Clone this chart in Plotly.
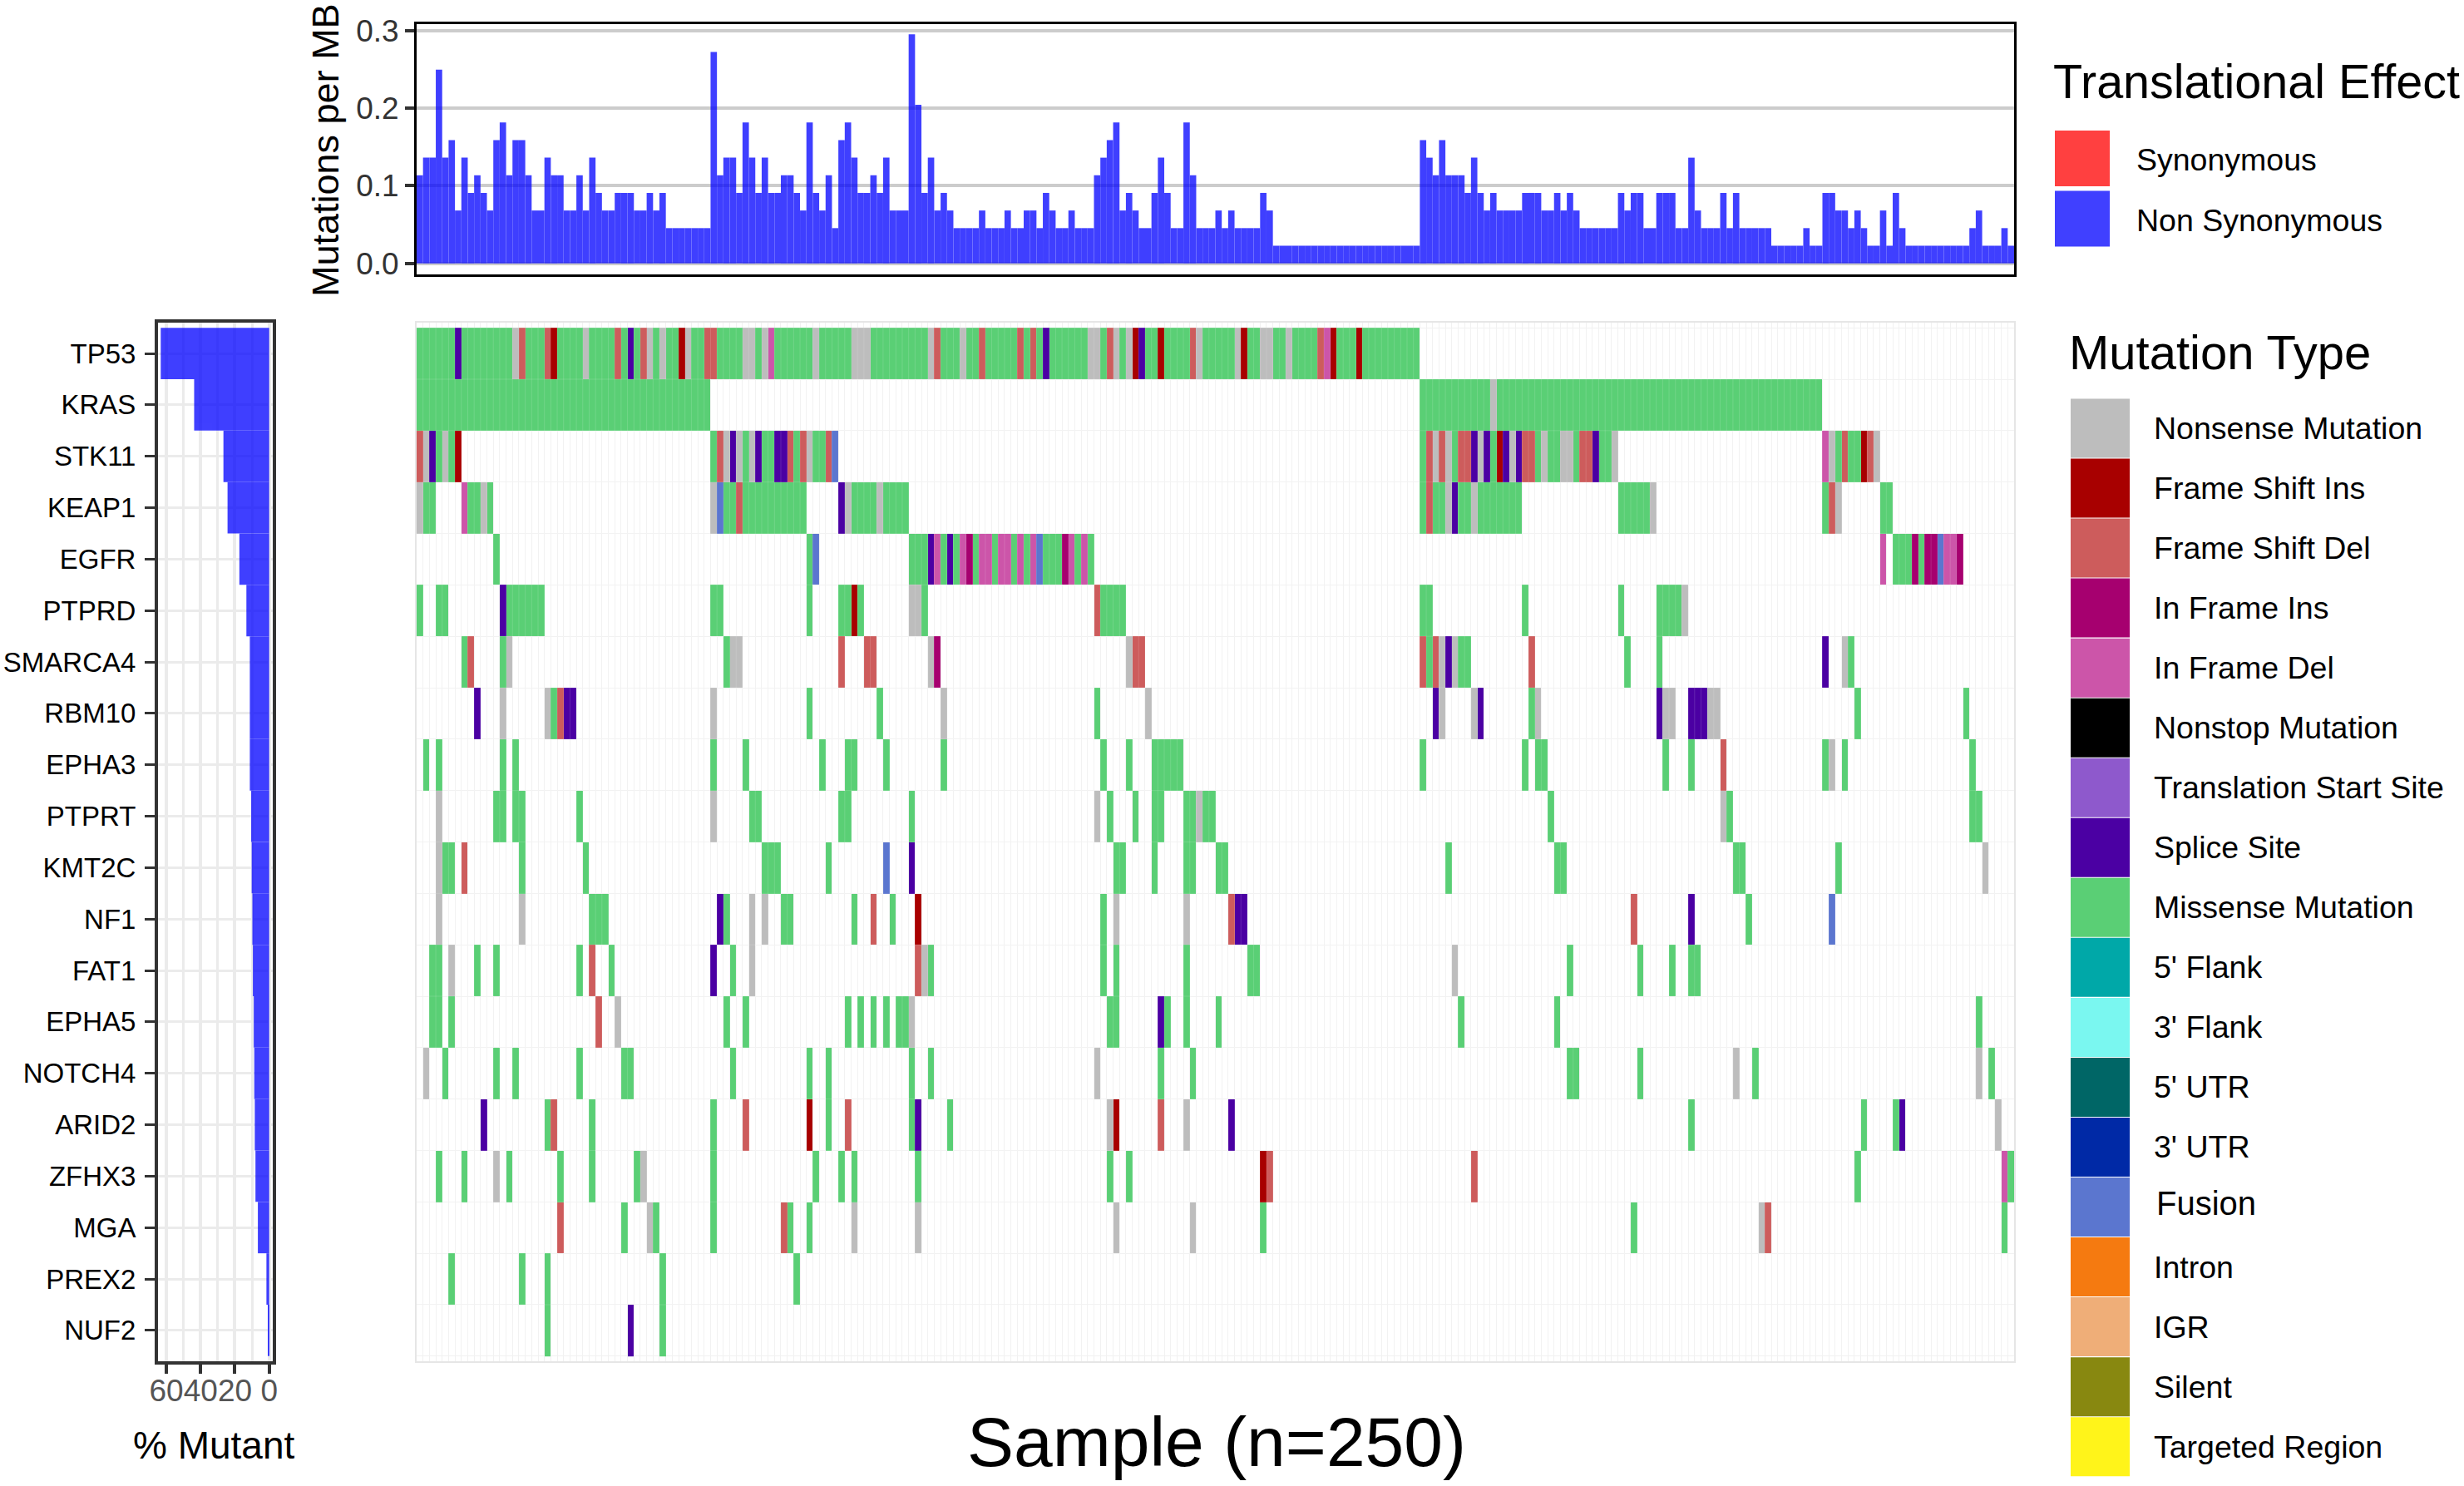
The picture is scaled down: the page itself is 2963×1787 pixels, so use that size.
import plotly.graph_objects as go

W, H = 2963, 1787

genes = ["TP53", "KRAS", "STK11", "KEAP1", "EGFR", "PTPRD", "SMARCA4", "RBM10", "EPHA3", "PTPRT",
         "KMT2C", "NF1", "FAT1", "EPHA5", "NOTCH4", "ARID2", "ZFHX3", "MGA", "PREX2", "NUF2"]
pct_mutant = [63.3, 43.8, 26.7, 24.3, 17.4, 13.3, 11.3, 11.3, 11.3, 10.5,
              10.2, 9.8, 9.5, 9.0, 8.7, 8.4, 8.0, 6.6, 1.6, 0.7]

# mutation counts per sample (top panel), one per sample, divided by a 44 MB target below
mut_counts = [5, 6, 6, 11, 6, 7, 3, 6, 4, 5, 4, 3, 7, 8, 5, 7, 7, 5, 3, 3,
              6, 5, 5, 3, 3, 5, 3, 6, 4, 3, 3, 4, 4, 4, 3, 3, 4, 3, 4,
              2, 2, 2, 2, 2, 2, 2, 12, 5, 6, 6, 4, 8, 6, 4, 6, 4, 4, 5, 5, 4,
              3, 8, 4, 3, 5, 2, 7, 8, 6, 4, 4, 5, 4, 6, 3, 3, 3, 13, 9, 4,
              6, 3, 4, 3, 2, 2, 2, 2, 3, 2, 2, 2, 3, 2, 2, 3, 3, 2, 4, 3,
              2, 2, 3, 2, 2, 2, 5, 6, 7, 8, 3, 4, 3, 2, 2, 4, 6, 4, 2, 2,
              8, 5, 2, 2, 2, 3, 2, 3, 2, 2, 2, 2, 4, 3,
              1, 1, 1, 1, 1, 1, 1, 1, 1, 1, 1, 1, 1, 1, 1, 1, 1, 1, 1, 1, 1, 1, 1,
              7, 6, 5, 7, 5, 5, 5, 4, 6, 4, 3, 4, 3, 3, 3, 3, 4, 4, 4, 3, 3, 4, 3, 4, 3,
              2, 2, 2, 2, 2, 2, 4, 3, 4, 4, 2, 2, 4, 4, 4, 2, 2, 6, 3, 2, 2, 2, 4, 2, 4,
              2, 2, 2, 2, 2, 1, 1, 1, 1, 1, 2, 1, 1, 4, 4, 3, 3, 2, 3, 2, 1, 1, 3, 1, 4, 2,
              1, 1, 1, 1, 1, 1, 1, 1, 1, 1, 2, 3, 1, 1, 1, 2, 1]
y_ticks = [0.0, 0.1, 0.2, 0.3]
pct_ticks = [60, 40, 20, 0]

mutation_types = ["Nonsense Mutation", "Frame Shift Ins", "Frame Shift Del", "In Frame Ins", "In Frame Del",
                  "Nonstop Mutation", "Translation Start Site", "Splice Site", "Missense Mutation",
                  "5' Flank", "3' Flank", "5' UTR", "3' UTR", "Fusion", "Intron", "IGR", "Silent", "Targeted Region"]
type_colors = ["#BDBDBD", "#A80000", "#CD5C5C", "#A6006F", "#CC55A9", "#000000", "#8E59CC", "#4B00A3", "#5ACF75",
               "#00A8A8", "#7AF7F0", "#006666", "#0029A6", "#5B76CF", "#F57A10", "#EFAE78", "#888810", "#FFF41A"]
# letter used in the call strings -> index in mutation_types
type_codes = {"N": 0, "F": 1, "D": 2, "I": 3, "E": 4, "S": 7, "M": 8, "U": 13}

effects = ["Synonymous", "Non Synonymous"]
effect_colors = ["#FF4040", "#4040FF"]

# one string per gene: letter + sample index or index range
TP53 = ("M0-5 S6 M7-14 N15 D16 M17-19 D20 F21 M22-25 N26 M27-30 D31 M32 S33 M34 D35 N36 M37 N38 M39-40 F41 N42 "
        "M43-44 D45-46 M47-50 N51-52 M53 N54 E55 M56-61 N62 M63-67 N68-70 M71-79 N80 D81 M82-84 N85 M86-87 D88 "
        "M89-93 D94 M95 D96 M97 S98 M99-104 N105-106 M107 D108 N109 M110 N111 F112 S113 M114-115 F116 M117-120 "
        "D121 N122 M123-127 N128 F129 M130-131 N132-133 M134-135 N136 M137-140 D141 E142 F143 M144-146 F147 M148-156")
KRAS = "M0-45 M157-167 N168 M169-219"
STK11 = ("D0 N1 S2 M3 N4 M5 F6 M46 D47 N48 S49 N50 M51 N52 S53 M54-55 S56-57 D58 M59 D60 N61 M62-63 D64 U65 "
         "M157 D158 N159 D160 N161 M162 D163-164 S165 N166 S167 M168 F169 S170 N171 S172 D173-174 M175 N176 M177-178 "
         "N179-180 M181 D182-183 S184 M185-186 N187 E220 N221 M222 D223 M224-225 F226 D227 N228")
KEAP1 = ("N0 M1-2 E7 M8-9 N10 M11 N46 U47 M48-49 D50 M51-60 S66 N67 M68-71 N72 M73-76 "
         "M157 D158 M159-160 N161 S162 M163-164 N165 M166-172 M188-192 N193 M220 D221 N222 M229-230")
EGFR = ("M12 M61 U62 M77-79 S80 E81 M82 S83 M84 E85 I86 M87 E88-89 M90 E91-92 M93 E94 M95 E96 U97 M98-100 I101 E102 "
        "M103 E104 M105 E229 M231-233 I234 M235 I236-237 U238 E239-240 I241")
PTPRD = "M0 M3-4 S13 M14-19 M46-47 M61 M66-67 F68 M69 N77-78 M79 D106 M107-110 M157-158 M173 M188 M194-197 N198"
SMARCA4 = ("M7 D8 M13 N14 M48 N49-50 D66 D70-71 N80 I81 N111 D112-113 D157 M158 D159 N160 S161 N162 M163-164 D174 "
           "M189 M194 S220 N223 M224")
RBM10 = "S9 N13 N20 M21 D22 S23-24 N46 M61 M72 N82 M106 N114 S159 N160 N165 S166 M174 N175 S194 N195-196 S199-201 N202-203 M225 M242"
EPHA3 = "M1 M3 M13 M15 M46 M51 M63 M67-68 M73 M82 M107 M111 M115-119 M157 M173 M175-176 M195 M199 D204 M220 N221 M223 M243"
PTPRT = "N3 M12-13 M15-16 M25 N46 M52-53 M66-67 M77 N106 M108 M112 M115-116 M120-121 N122 M123-124 M177 N204 M205 M243-244"
KMT2C = "N3 M4-5 D7 M16 M26 M54-56 M64 U73 S77 M109-110 M115 M120-121 M125-126 M161 M178-179 M206-207 M222 N245"
NF1 = "N3 N16 M27-29 S47 M48 N52 N54 M57-58 M68 D71 M74 F78 M107 N109 N120 D127 S128-129 D190 S199 M208 U221"
FAT1 = "M2-3 N5 M9 M12 M25 D27 M30 S46 M49 N52 D78 N79 M80 M107 M109 M120 M130-131 N162 M180 M191 M196 M199-200"
EPHA5 = "M2-3 M5 D28 N31 M48 M51 M67 M69 M71 M73 M75-76 N77 M108-109 S116 M117 M120 M125 M163 M178 M244"
NOTCH4 = "N1 M4 M12 M15 M25 M32-33 M49 M61 M64 M77 M80 N106 M116 M121 M180-181 M191 N206 M209 N244 M246"
ARID2 = "S10 M20 D21 M27 M46 D51 F61 M64 D67 M77 S78 M83 N108 F109 D116 N120 S127 M199 M226 M231 S232 N247"
ZFHX3 = "M3 M7 N12 M14 M22 M27 M34 N35 M46 M62 M66 M68 M78 M108 M111 F132 D133 D165 M225 E248 M249"
MGA = "D22 M32 N36 M37 M46 D57 M58 M61 N68 N78 N109 N121 M132 M190 N210 D211 M248"
PREX2 = "M5 M16 M20 M38 M59"
NUF2 = "M20 S33 M38"

gene_calls = [TP53, KRAS, STK11, KEAP1, EGFR, PTPRD, SMARCA4, RBM10, EPHA3, PTPRT,
              KMT2C, NF1, FAT1, EPHA5, NOTCH4, ARID2, ZFHX3, MGA, PREX2, NUF2]

n_samples = 250

# turn the call strings into the tile matrix
z = [[None] * n_samples for g in genes]
for row, calls in enumerate(gene_calls):
    for tok in calls.split():
        rng = tok[1:].split("-")
        for s in range(int(rng[0]), int(rng[-1]) + 1):
            z[row][s] = type_codes[tok[0]] + 1

n_types = len(mutation_types)
colorscale = []
for i, c in enumerate(type_colors):
    colorscale.append([i / n_types, c])
    colorscale.append([(i + 1) / n_types, c])


def px_x(p):
    return p / W


def px_y(p):
    return 1 - p / H


samples = list(range(n_samples))
FONT = "Liberation Sans"

fig = go.Figure()

fig.add_trace(go.Heatmap(z=z, x=samples, y=list(range(len(genes))), zmin=0.5, zmax=n_types + 0.5,
                         colorscale=colorscale, showscale=False, hoverongaps=False,
                         xaxis="x", yaxis="y"))

# faint tile outlines on top of the coloured tiles
sep_x, sep_y = [], []
for s in range(n_samples - 1):
    sep_x += [s + 0.5, s + 0.5, None]
    sep_y += [-0.5, 19.5, None]
for g in range(len(genes) - 1):
    sep_x += [-0.5, 249.5, None]
    sep_y += [g + 0.5, g + 0.5, None]
fig.add_trace(go.Scatter(x=sep_x, y=sep_y, mode="lines", line=dict(color="rgba(255,255,255,0.14)", width=1),
                         hoverinfo="skip", xaxis="x", yaxis="y"))

fig.add_trace(go.Bar(x=samples, y=[c / 44 for c in mut_counts], width=1, marker=dict(color="#0000FF", line_width=0),
                     opacity=0.75, xaxis="x2", yaxis="y2"))

fig.add_trace(go.Bar(x=pct_mutant, y=genes, orientation="h", width=1, marker=dict(color="#0000FF", line_width=0),
                     opacity=0.75, xaxis="x3", yaxis="y3"))

grid_light = "#F1F1F1"

fig.update_layout(
    width=W, height=H, margin=dict(l=0, r=0, t=0, b=0, pad=0), showlegend=False,
    paper_bgcolor="white", plot_bgcolor="white", font=dict(family=FONT, color="black"),
    xaxis=dict(domain=[px_x(501), px_x(2422)], range=[-0.5, 249.5], showticklabels=False, ticks="", automargin=False,
               showgrid=True, gridcolor=grid_light, gridwidth=1, tick0=0.5, dtick=1, zeroline=False,
               showline=True, mirror=True, linecolor="#E6E6E6", linewidth=2),
    yaxis=dict(domain=[px_y(1637), px_y(388)], range=[19.6, -0.6], showticklabels=False, ticks="", automargin=False,
               showgrid=True, gridcolor=grid_light, gridwidth=1, tick0=0.5, dtick=1, zeroline=False,
               showline=True, mirror=True, linecolor="#E6E6E6", linewidth=2),
    xaxis2=dict(domain=[px_x(501), px_x(2422)], range=[-0.5, 249.5], showticklabels=False, ticks="", showgrid=False, automargin=False,
                zeroline=False, showline=True, mirror=True, linecolor="black", linewidth=3, anchor="y2"),
    yaxis2=dict(domain=[px_y(330), px_y(29)], range=[-0.0143, 0.3087], tickvals=y_ticks, ticktext=["0.0", "0.1", "0.2", "0.3"],
                ticks="outside", ticklen=11, tickwidth=4, tickcolor="#333333", tickfont=dict(size=37, color="#333333"), automargin=False,
                showgrid=True, gridcolor="#CCCCCC", gridwidth=4, zeroline=False, showline=True, mirror=True,
                linecolor="black", linewidth=3, anchor="x2"),
    xaxis3=dict(domain=[px_x(190), px_x(328)], range=[64.9, -2.1], tickvals=pct_ticks, tickangle=0, automargin=False,
                ticks="outside", ticklen=11, tickwidth=4, tickcolor="#333333", tickfont=dict(size=37, color="#555555"),
                ticklabelstandoff=-11,
                showgrid=True, gridcolor="#EBEBEB", gridwidth=4, minor=dict(dtick=10, showgrid=True, gridcolor="#EBEBEB", gridwidth=3),
                zeroline=False, showline=True, mirror=True, linecolor="#333333", linewidth=4, anchor="y3"),
    yaxis3=dict(domain=[px_y(1637), px_y(388)], type="category", categoryorder="array", categoryarray=genes, automargin=False,
                range=[19.6, -0.6], ticks="outside", ticklen=12, tickwidth=3, tickcolor="#333333",
                tickfont=dict(size=33, color="black"), ticklabelstandoff=4,
                showgrid=True, gridcolor="#EBEBEB", gridwidth=3, zeroline=False, showline=True, mirror=True,
                linecolor="#333333", linewidth=4, anchor="x3"),
)

shapes = []
annotations = []


def add_text(text, x, y, size, anchor="left", angle=0):
    annotations.append(dict(text=text, x=px_x(x), y=px_y(y), xref="paper", yref="paper", showarrow=False,
                            xanchor=anchor, yanchor="middle", textangle=angle, font=dict(size=size, color="black", family=FONT)))


add_text("Translational Effect", 2467, 98, 57.5)
for i, name in enumerate(effects):
    top = 157 + i * 72.5
    shapes.append(dict(type="rect", xref="paper", yref="paper", x0=px_x(2471), x1=px_x(2537), y0=px_y(top), y1=px_y(top + 67),
                       fillcolor=effect_colors[i], line_width=0))
    add_text(name, 2567, top + 35, 37.5)

add_text("Mutation Type", 2486, 423, 58)
for i, name in enumerate(mutation_types):
    top = 479 + i * 72.04
    shapes.append(dict(type="rect", xref="paper", yref="paper", x0=px_x(2490), x1=px_x(2561), y0=px_y(top + 0.5), y1=px_y(top + 71.5),
                       fillcolor=type_colors[i], line_width=0))
    if name == "Fusion":
        add_text(name, 2591, top + 31, 40)
    else:
        add_text(name, 2588, top + 36, 37.5)

add_text("Sample (n=250)", 1463, 1734, 84, anchor="center")
add_text("% Mutant", 257, 1738, 46, anchor="center")
add_text("Mutations per MB", 392, 181, 45, anchor="center", angle=-90)

fig.update_layout(shapes=shapes, annotations=annotations)

fig.write_html("out.html", post_script="document.body.style.margin='0';", config=dict(displayModeBar=False))
